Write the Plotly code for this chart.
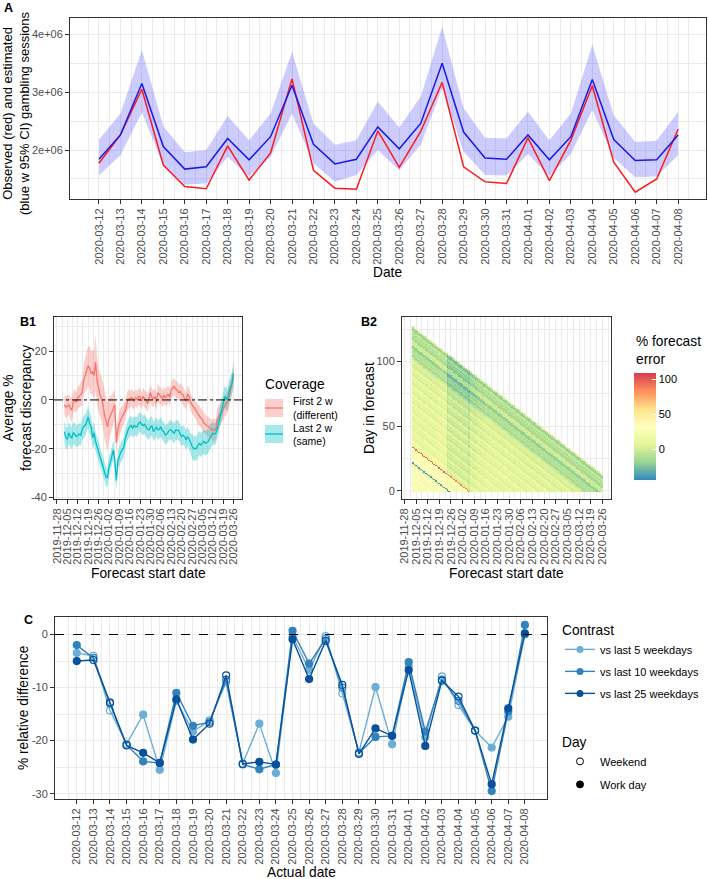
import pandas as pd
import plotly.graph_objects as go

W, H = 708, 879
FONT = "Liberation Sans, Arial, Helvetica, sans-serif"
GRID = "#EBEBEB"
BORDER = "#333333"
TICKTXT = "#4D4D4D"

# ---------------- Panel A data ----------------
a_dates = [d.strftime("%Y-%m-%d") for d in pd.date_range("2020-03-12", "2020-04-08")]
a_observed = [1.77, 2.26, 3.05, 1.74, 1.37, 1.33, 2.07, 1.48, 1.95, 3.23, 1.65, 1.34, 1.32, 2.33,
              1.70, 2.32, 3.17, 1.71, 1.45, 1.42, 2.21, 1.47, 2.17, 3.11, 1.79, 1.27, 1.50, 2.36]
a_estimate = [1.84, 2.26, 3.15, 2.06, 1.67, 1.71, 2.20, 1.83, 2.23, 3.12, 2.10, 1.76, 1.84, 2.40,
              2.02, 2.46, 3.50, 2.31, 1.86, 1.84, 2.26, 1.83, 2.23, 3.22, 2.18, 1.82, 1.83, 2.26]
a_ci_high = [2.18, 2.63, 3.73, 2.41, 1.96, 2.00, 2.59, 2.17, 2.63, 3.70, 2.46, 2.09, 2.17, 2.84,
             2.39, 2.92, 4.13, 2.72, 2.21, 2.20, 2.66, 2.17, 2.63, 3.82, 2.60, 2.14, 2.16, 2.66]
a_ci_low = [1.56, 1.91, 2.65, 1.74, 1.40, 1.42, 1.88, 1.54, 1.88, 2.63, 1.77, 1.45, 1.57, 2.00,
            1.65, 2.09, 3.07, 1.97, 1.57, 1.56, 1.93, 1.55, 1.93, 2.69, 1.86, 1.53, 1.54, 1.91]
a_unit = 1e6
a_yticks = [2e6, 3e6, 4e6]
a_yticklabels = ["2e+06", "3e+06", "4e+06"]

# ---------------- Panel B1 data ----------------
b1_origin = pd.Timestamp("2019-11-28")
b1_day = list(range(5, 120))  # day offset of each forecast start date from 2019-11-28
b1_first = [-2, -3, -2.5, -2, -3.5, -4, -1, 0, -1, 1, 1.5, 2.5, 3,
            8, 10.5, 12, 14, 13, 11, 11.5, 10, 15.5, 8, 4, 2, 0.5,
            -2, -6, -9, -11, -8, -6.5, -5, -3, -2, -17.5,
            -12, -9.5, -8, -7, -5.5, -4.5, -1.5, 0.5, 0, 1,
            0.5, -0.5, 1, 0, 1.5, 1, -0.5, 1.5, 0.5, 0,
            -1.5, 1, 3, 1, 0.5, 1.5, -1, 3, 2, 1.5,
            0.5, 2, 1, 1.5, 2.5, 1, 4, 5, 5.5, 4.5,
            4, 3, 3.5, 2.5, 2, 0.5, -0.5, 2.5, 1.5, -1,
            -2, -3, -4, -4.5, -6, -6.5, -7.5, -8, -9.5, -10,
            -10.5, -11, -11.5, -12, -12.5, -12, -12.5, -8, -7, -6,
            -4.5, -3.5, -2.5, -1.5, -0.5, 1.5, 4, 7, 10]
b1_first_hw = [4, 4.5, 4.5, 4, 4.5, 5, 4.5, 4.5, 4, 4.5, 4.5, 5, 5.5,
               6, 7, 8, 8, 9, 9, 9, 10, 11.5, 10, 9, 9, 9,
               9, 10, 10, 10, 9, 8, 7, 6.5, 6, 5.5,
               5, 5, 5, 4.5, 4.5, 4, 4, 4, 3.5, 3.5,
               3.5, 3.5, 3.5, 3.5, 3.5, 3.5, 3.5, 3.5, 3.5, 3.5,
               3.5, 3.5, 3.5, 3.5, 3.5, 3.5, 3.5, 3.5, 3.5, 3.5,
               3.5, 3.5, 3.5, 3.5, 3.5, 3.5, 3.5, 3.5, 3.5, 3.5,
               3.5, 3.5, 3.5, 3.5, 3.5, 3.5, 3.5, 3.5, 3.5, 3.5,
               3.5, 3.5, 3.5, 4, 4, 4, 4, 4, 4, 4,
               4, 4, 4, 4, 4.5, 4.5, 4.5, 4.5, 4.5, 4.5,
               4.5, 4.5, 4.5, 4.5, 4.5, 4.5, 4.5, 4.5, 5]
b1_last = [-13, -15.5, -16, -13.5, -15, -15.5, -13.5, -14, -15, -14.5, -14, -14.5, -12,
           -11, -10.5, -9, -7, -9.5, -11, -15.5, -13.5, -17, -19, -21.5, -23, -25,
           -27, -29, -31.5, -32, -27.5, -25.5, -23, -20.5, -25, -33,
           -25, -23, -21.5, -20.5, -19.5, -16, -13.5, -12, -11, -10.5,
           -11.5, -10.5, -11, -11, -9.5, -9, -10, -10.5, -10, -11,
           -12, -12.3, -11, -10.7, -13, -12, -11, -12.3, -12, -11,
           -12.5, -13, -14.4, -14, -13, -12.3, -12.3, -13, -13.7, -12.3,
           -12.3, -12.5, -14, -15, -14.4, -15, -16.4, -15, -16, -17.8,
           -19, -19.9, -20, -19.9, -18.5, -17.8, -18.5, -17.5, -17, -17.8,
           -17.5, -17, -15.5, -14.4, -13.7, -14, -13.7, -12, -9.6, -6.5,
           -4, -1.5, 1.4, 0.5, 0, 3.4, 5, 7, 11]
b1_last_hw = [4.5, 4.5, 4.5, 4.5, 4.5, 4.5, 4.5, 4.5, 4.5, 4.5, 4.5, 4.5, 4.5,
              4.5, 4.5, 4.5, 4.5, 4.5, 4.5, 4.5, 4.5, 4, 4, 4, 4, 4,
              4, 4, 4, 4, 4, 4, 4, 4, 4, 4,
              4, 4, 4, 4, 4, 4, 4, 4, 4, 4,
              4, 4, 4, 4, 4, 4, 4, 4, 4, 4,
              4, 4, 4, 4, 4, 4, 4, 4, 4, 4,
              4, 4, 4, 4, 4, 4, 4, 4, 4, 4,
              4, 4, 4, 4, 4, 4, 4, 4, 4, 4,
              5, 5, 5, 5, 5, 5, 5, 5, 5, 5,
              5, 5, 5, 5, 4.5, 4.5, 4.5, 4.5, 4.5, 4.5,
              4.5, 4.5, 4.5, 4.5, 4.5, 4.5, 4.5, 4.5, 5]
b1_names = [["First 2 w", "(different)"], ["Last 2 w", "(same)"]]
b1_colors = ["#F8766D", "#00BFC4"]
b1_fills = ["rgba(248,118,109,0.35)", "rgba(0,191,196,0.35)"]
b_xtick_dates = [d.strftime("%Y-%m-%d") for d in pd.date_range("2019-11-28", "2020-03-26", freq="7D")]

# ---------------- Panel B2 data ----------------
b2_first_start = "2019-12-03"
b2_last_start = "2020-03-26"
b2_end = "2020-04-08"
# % forecast error associated with each actual (forecasted) date 2019-12-03 .. 2020-04-08
b2_err_by_actual_date = [
    24, 28, 20, 30, 33, 27, 18, 25, 28, 20, 31, 34, 27, 17, 24, 27, 21, 31, 34, 28, 20, 8, -38,
    30, 36, 37, 32, 28, 24,                                     # Dec 3 - Dec 31
    36, 31, 35, 37, 33, 95, 13, 9, 17, 21, 15, 11, 5, 10, 14, 7, 19, 17, 10, 4, 9, 13, 6,
    18, 16, 9, 3, 8, 12, 5, 17,                                 # Jan
    15, 8, 3, 9, 13, 6, 19, 16, 9, 2, 7, 12, 5, 18, 15, 8, 1, 6, 11, 4, 17, 14, 7, 0,
    5, 10, 3, 15, 13,                                           # Feb
    6, -1, 4, 9, 2, 13, 11, 4, -2, 3, 6, 2, 5, -2, -8, -14, -16, -4, -12, -10, -6, -18, -20,
    -20, 2, -4, 3, -2, -16, -12, -14,                           # Mar
    -3, -15, -2, -6, -12, -22, -9, 5,                           # Apr 1-8
]
# additional shift for each forecast start date 2019-12-03 .. 2020-03-26
b2_start_offset = [
    0, 0, 0, 0, 0, 0, 0, 0, 0, 0, 0, 0, 0, 0, 0, 0,             # Dec 3 - Dec 18
    2, 2, 2, 2, 2,                                              # Dec 19 - Dec 23
    -14,                                                        # Dec 24
    -9, -9, -9, -9, -9, -9, -9, -9, -9, -9, -9, -9,             # Dec 25 - Jan 5
    -14,                                                        # Jan 6
    -5, -5, -5, -5, -2, -2, -2, -2, -2,                         # Jan 7 - Jan 15
    0, 0, 0, 0, 0, 0, 0, 0, 0, 0, 0, 0, 0, 0, 0, 0,             # Jan 16 - Jan 31
    0, 0, 0, 0, 0, 0, 0, 0, 0, 0, 0, 0, 0, 0, 0, 0, 0, 0, 0, 0,
    0, 0, 0, 0, 0, 0, 0, 0, 0,                                  # Feb
    0, 0, 0, 0, 0, 0, 0, 0, 0, 0, 0, 0, 0, 0, 0, 0, 0, 0, 0, 0,
    0, 0, 0, 0, 0, 0,                                           # Mar 1 - Mar 26
]
b2_zmin, b2_zmax = -44, 109
b2_colors = ["#3288BD", "#99D594", "#E6F598", "#FFFFBF", "#FEE08B", "#FC8D59", "#D53E4F"]

# ---------------- Panel C data ----------------
c_dates = a_dates
c_last5 = [-3.5, -4.0, -14.3, -20.6, -15.1, -25.5, -12.5, -18.3, -16.2, -9.0, -24.3, -16.8, -26.1, -0.3,
           -6.7, -0.3, -11.1, -22.2, -9.9, -20.7, -6.0, -19.3, -7.9, -13.3, -18.1, -21.3, -15.5, 0.0]
c_last10 = [-2.0, -4.4, -13.0, -20.8, -23.9, -24.2, -11.0, -17.2, -16.5, -8.5, -24.5, -25.4, -24.5, 0.7,
            -5.5, -0.8, -10.0, -22.4, -19.3, -19.1, -5.2, -18.3, -8.5, -12.5, -18.1, -29.5, -14.5, 1.8]
c_last25 = [-5.0, -4.8, -12.8, -20.9, -22.3, -24.2, -12.2, -19.8, -16.8, -7.7, -24.4, -24.0, -24.5, -0.9,
            -8.4, -1.2, -9.5, -22.5, -17.7, -19.1, -6.7, -21.0, -8.7, -11.7, -18.1, -28.2, -13.9, 0.2]
c_day_type = ["Work day", "Weekend", "Weekend", "Weekend", "Work day", "Work day", "Work day",
              "Work day", "Weekend", "Weekend", "Weekend", "Work day", "Work day", "Work day",
              "Work day", "Weekend", "Weekend", "Weekend", "Work day", "Work day", "Work day",
              "Work day", "Weekend", "Weekend", "Weekend", "Work day", "Work day", "Work day"]
c_series_names = ["vs last 5 weekdays", "vs last 10 weekdays", "vs last 25 weekdays"]
c_series_colors = ["#6BAED6", "#3182BD", "#08519C"]

# ---------------- helpers ----------------
def fx(p):
    return p / W


def fy(p):
    return 1 - p / H


def date_axis(domain, anchor, rng, tickvals, minor_vals):
    return dict(domain=domain, anchor=anchor, type="date", range=rng,
                tickmode="array", tickvals=tickvals, ticktext=tickvals, tickangle=-90,
                ticks="outside", ticklen=4, tickcolor=BORDER, tickwidth=1,
                tickfont=dict(size=11, color=TICKTXT, family=FONT),
                showgrid=True, gridcolor=GRID, gridwidth=1,
                minor=dict(tickvals=minor_vals, showgrid=True, gridcolor=GRID, gridwidth=0.5),
                showline=True, linecolor=BORDER, linewidth=1, mirror=True,
                zeroline=False, automargin=False)


def num_axis(domain, anchor, rng, tickvals, ticktext, minor_vals):
    return dict(domain=domain, anchor=anchor, range=rng,
                tickmode="array", tickvals=tickvals, ticktext=ticktext,
                ticks="outside", ticklen=4, tickcolor=BORDER, tickwidth=1,
                tickfont=dict(size=11, color=TICKTXT, family=FONT),
                showgrid=True, gridcolor=GRID, gridwidth=1,
                minor=dict(tickvals=minor_vals, showgrid=True, gridcolor=GRID, gridwidth=0.5),
                showline=True, linecolor=BORDER, linewidth=1, mirror=True,
                zeroline=False, automargin=False)


fig = go.Figure()

# ---------------- Panel A traces ----------------
a_hi = [v * a_unit for v in a_ci_high]
a_lo = [v * a_unit for v in a_ci_low]
fig.add_trace(go.Scatter(x=a_dates + a_dates[::-1], y=a_hi + a_lo[::-1], fill="toself",
                         fillcolor="rgba(0,0,255,0.2)", line=dict(width=0), mode="lines",
                         showlegend=False, hoverinfo="skip", xaxis="x", yaxis="y"))
fig.add_trace(go.Scatter(x=a_dates, y=[v * a_unit for v in a_observed], mode="lines",
                         line=dict(color="#FF1A1A", width=1.5), showlegend=False, xaxis="x", yaxis="y"))
fig.add_trace(go.Scatter(x=a_dates, y=[v * a_unit for v in a_estimate], mode="lines",
                         line=dict(color="#1A1AE6", width=1.5), showlegend=False, xaxis="x", yaxis="y"))

# ---------------- Panel B1 traces ----------------
b1_dates = [(b1_origin + pd.Timedelta(days=d)).strftime("%Y-%m-%d") for d in b1_day]
b1_series = [(b1_first, b1_first_hw), (b1_last, b1_last_hw)]
for (vals, hw), fillc in zip(b1_series, b1_fills):
    up = [v + h for v, h in zip(vals, hw)]
    lo = [v - h for v, h in zip(vals, hw)]
    fig.add_trace(go.Scatter(x=b1_dates + b1_dates[::-1], y=up + lo[::-1], fill="toself",
                             fillcolor=fillc, line=dict(width=0), mode="lines",
                             showlegend=False, hoverinfo="skip", xaxis="x2", yaxis="y2"))
for (vals, hw), col, name in zip(b1_series, b1_colors, b1_names):
    fig.add_trace(go.Scatter(x=b1_dates, y=vals, mode="lines", line=dict(color=col, width=1.3),
                             name=" ".join(name), showlegend=False, xaxis="x2", yaxis="y2"))

# ---------------- Panel B2 heatmap ----------------
starts = pd.date_range(b2_first_start, b2_last_start)
actual0 = pd.Timestamp(b2_first_start)
end = pd.Timestamp(b2_end)
n_days = (end - actual0).days + 1
z = [[None] * len(starts) for _ in range(n_days)]
for j, s in enumerate(starts):
    base = (s - actual0).days
    for d in range((end - s).days + 1):
        z[d][j] = b2_err_by_actual_date[base + d] + b2_start_offset[j]
scale = [[i / (len(b2_colors) - 1), c] for i, c in enumerate(b2_colors)]
fig.add_trace(go.Heatmap(x=[s.strftime("%Y-%m-%d") for s in starts], y=list(range(n_days)), z=z,
                         colorscale=scale, zmin=b2_zmin, zmax=b2_zmax, xaxis="x3", yaxis="y3",
                         hoverongaps=False,
                         colorbar=dict(x=fx(634), xanchor="left", y=fy(373), yanchor="top",
                                       lenmode="pixels", len=107, thickness=22, outlinewidth=0,
                                       xpad=0, ypad=0, tickmode="array", tickvals=[0, 50, 100],
                                       ticktext=["0", "50", "100"], ticks="inside", ticklen=4,
                                       tickcolor="white", tickfont=dict(size=11, color="#000000", family=FONT))))

# ---------------- Panel C traces ----------------
c_symbols = ["circle-open" if t == "Weekend" else "circle" for t in c_day_type]
for vals, name, col in zip([c_last5, c_last10, c_last25], c_series_names, c_series_colors):
    fig.add_trace(go.Scatter(x=c_dates, y=vals, mode="lines+markers",
                             line=dict(color=col, width=1.4),
                             marker=dict(symbol=c_symbols, size=7, color=col, line=dict(color=col, width=1.2)),
                             showlegend=False, xaxis="x4", yaxis="y4"))
for k, (name, col) in enumerate(zip(c_series_names, c_series_colors)):
    fig.add_trace(go.Scatter(x=[None], y=[None], mode="lines+markers", name=name,
                             line=dict(color=col, width=1.4), marker=dict(size=7, color=col),
                             legend="legend2", legendgroup=f"con{k}", xaxis="x4", yaxis="y4"))
for k, (name, sym) in enumerate([("Weekend", "circle-open"), ("Work day", "circle")]):
    fig.add_trace(go.Scatter(x=[None], y=[None], mode="markers", name=name,
                             marker=dict(symbol=sym, size=7, color="black", line=dict(color="black", width=1)),
                             legend="legend3", legendgroup=f"day{k}", xaxis="x4", yaxis="y4"))

# ---------------- axes ----------------
daily_minor = [d.strftime("%Y-%m-%d %H:%M") for d in pd.date_range("2020-03-10 12:00", "2020-04-09 12:00")]
weekly_minor = [d.strftime("%Y-%m-%d %H:%M") for d in pd.date_range("2019-11-24 12:00", "2020-04-05", freq="7D")]

fig.update_layout(
    xaxis=date_axis([fx(70), fx(706)], "y", ["2020-03-10 15:36", "2020-04-09 07:12"], a_dates, daily_minor),
    yaxis=num_axis([fy(199), fy(18)], "x", [1.153e6, 4.282e6], a_yticks, a_yticklabels, [1.5e6, 2.5e6, 3.5e6]),
    xaxis2=date_axis([fx(54), fx(242)], "y2", ["2019-11-26 00:00", "2020-03-31 16:00"], b_xtick_dates, weekly_minor),
    yaxis2=num_axis([fy(499), fy(317)], "x2", [-40.6, 34], [-40, -20, 0, 20], ["-40", "-20", "0", "20"], [-30, -10, 10, 30]),
    xaxis3=date_axis([fx(402), fx(611)], "y3", ["2019-11-26 14:00", "2020-03-31 05:00"], b_xtick_dates, weekly_minor),
    yaxis3=num_axis([fy(499), fy(317)], "x3", [-6.2, 134.5], [0, 50, 100], ["0", "50", "100"], [25, 75, 125]),
    xaxis4=date_axis([fx(55), fx(547)], "y4", ["2020-03-10 16:30", "2020-04-09 08:00"], c_dates, daily_minor),
    yaxis4=num_axis([fy(799), fy(617)], "x4", [-31, 3.3], [-30, -20, -10, 0], ["-30", "-20", "-10", "0"], [-25, -15, -5]),
)

# dashed zero lines
fig.add_shape(type="line", xref="x2 domain", yref="y2", x0=0, x1=1, y0=0, y1=0,
              line=dict(color="black", width=1, dash="dashdot"))
fig.add_shape(type="line", xref="x4 domain", yref="y4", x0=0, x1=1, y0=0, y1=0,
              line=dict(color="black", width=1, dash="dash"))

# ---------------- text ----------------
def ann(x, y, text, size=13.75, angle=0, xanchor="center", yanchor="middle", bold=False, align="center"):
    fig.add_annotation(x=fx(x), y=fy(y), xref="paper", yref="paper", text=f"<b>{text}</b>" if bold else text,
                       showarrow=False, textangle=angle, xanchor=xanchor, yanchor=yanchor,
                       font=dict(size=size, color="#000000", family=FONT), align=align)


ann(2, 8, "A", size=12.5, xanchor="left", bold=True)
ann(18, 322, "B1", size=12.5, xanchor="left", bold=True)
ann(359, 322, "B2", size=12.5, xanchor="left", bold=True)
ann(22, 620, "C", size=12.5, xanchor="left", bold=True)

ann(16, 113, "Observed (red) and estimated<br>(blue w 95% CI) gambling sessions", size=13, angle=-90)
ann(388, 272, "Date")
ann(17, 408, "Average %<br>forecast discrepancy", angle=-90)
ann(148, 573, "Forecast start date")
ann(369, 408, "Day in forecast", angle=-90)
ann(506, 573, "Forecast start date")
ann(634, 351, "% forecast<br>error", xanchor="left", align="left")
ann(23, 708, "% relative difference", angle=-90)
ann(301, 872, "Actual date")

# B1 legend (ggplot-style keys: filled square with a line through the middle)
ann(263, 384, "Coverage", xanchor="left")
for k, (lines, col, fillc) in enumerate(zip(b1_names, b1_colors, b1_fills)):
    centre = 408 + k * 26
    fig.add_shape(type="rect", xref="paper", yref="paper", x0=fx(265), x1=fx(283),
                  y0=fy(centre + 9), y1=fy(centre - 9), fillcolor=fillc, line=dict(width=0))
    fig.add_shape(type="line", xref="paper", yref="paper", x0=fx(265), x1=fx(283),
                  y0=fy(centre), y1=fy(centre), line=dict(color=col, width=1.3))
    ann(291, centre - 6.5, lines[0], size=10.5, xanchor="left", align="left")
    ann(291, centre + 6.5, lines[1], size=10.5, xanchor="left", align="left")

legend_common = dict(xanchor="left", yanchor="top", bgcolor="rgba(0,0,0,0)",
                     font=dict(size=11, color="#000000", family=FONT), itemwidth=30)
fig.update_layout(
    legend2=dict(x=fx(560), y=fy(617), title=dict(text="Contrast", font=dict(size=13.75, family=FONT)),
                 tracegroupgap=3, **legend_common),
    legend3=dict(x=fx(560), y=fy(729), title=dict(text="Day", font=dict(size=13.75, family=FONT)),
                 tracegroupgap=4, **legend_common),
)

fig.update_layout(width=W, height=H, margin=dict(l=0, r=0, t=0, b=0),
                  paper_bgcolor="white", plot_bgcolor="white",
                  font=dict(family=FONT, color="#000000"), hovermode=False)

fig.write_html("out.html", config={"displayModeBar": False},
               post_script="document.body.style.margin='0px';")
